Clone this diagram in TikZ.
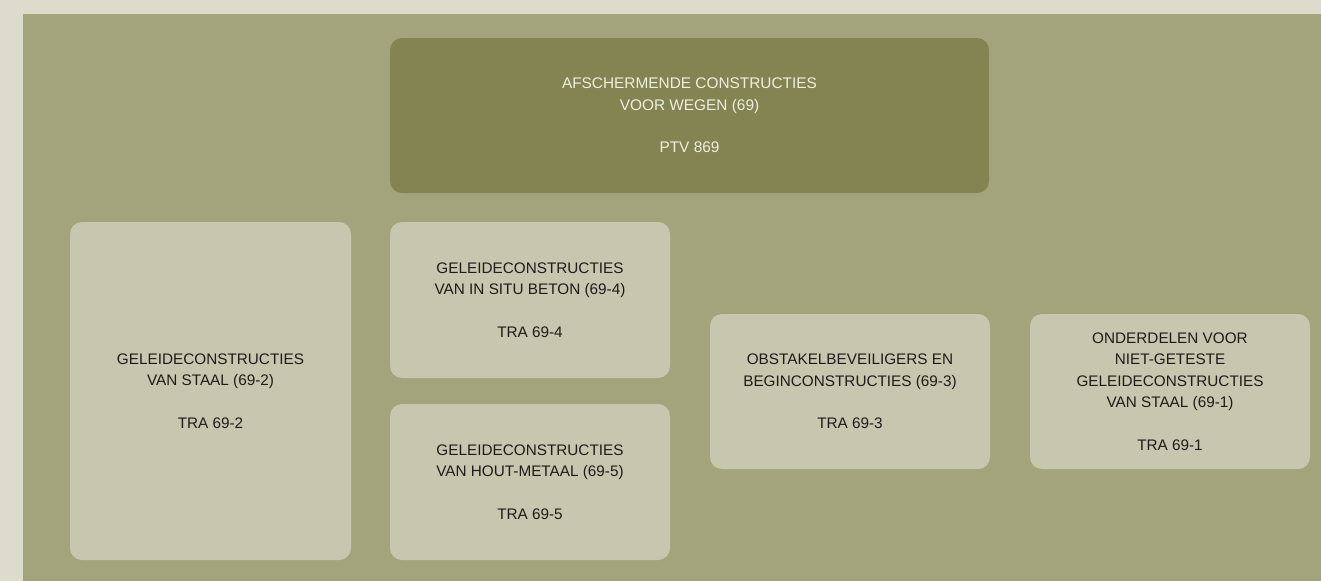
\documentclass[tikz,border=0pt]{standalone}
\usepackage{fontspec}
\setmainfont{Liberation Sans}

\definecolor{pagebg}{HTML}{DCDBCC}
\definecolor{panelbg}{HTML}{A4A47C}
\definecolor{headfill}{HTML}{838452}
\definecolor{itemfill}{HTML}{C7C7AF}
\definecolor{headtext}{HTML}{EEEEE2}
\definecolor{itemtext}{HTML}{1C1C1A}

\tikzset{
  headbox/.style={fill=headfill, text=headtext, rounded corners=12pt, inner sep=0pt,
    align=center, font=\fontsize{15.4}{21.5}\selectfont},
  itembox/.style={fill=itemfill, text=itemtext, rounded corners=12pt, inner sep=0pt,
    align=center, font=\fontsize{15.3}{21.5}\selectfont}
}

\begin{document}
\begin{tikzpicture}[x=1pt, y=-1pt]
% Background and panel
\fill[pagebg] (0,0) rectangle (1321,581);
\fill[panelbg] (23,14) rectangle (1321,581);
\useasboundingbox (0,0) rectangle (1321,581);

% Main standard
\node[headbox, minimum width=599pt, minimum height=155pt] (ptv) at (689.5,115.5)
  {AFSCHERMENDE CONSTRUCTIES\\VOOR WEGEN (69)\\[21pt]PTV 869};

% Sub standards
\node[itembox, minimum width=281pt, minimum height=338pt] (tra2) at (210.5,391)
  {GELEIDECONSTRUCTIES\\VAN STAAL (69-2)\\[21pt]TRA 69-2};
\node[itembox, minimum width=280pt, minimum height=156pt] (tra4) at (530,300)
  {GELEIDECONSTRUCTIES\\VAN IN SITU BETON (69-4)\\[21pt]TRA 69-4};
\node[itembox, minimum width=280pt, minimum height=156pt] (tra5) at (530,482)
  {GELEIDECONSTRUCTIES\\VAN HOUT-METAAL (69-5)\\[21pt]TRA 69-5};
\node[itembox, minimum width=280pt, minimum height=155pt] (tra3) at (850,391.5)
  {OBSTAKELBEVEILIGERS EN\\BEGINCONSTRUCTIES (69-3)\\[21pt]TRA 69-3};
\node[itembox, minimum width=280pt, minimum height=155pt] (tra1) at (1170,391.5)
  {ONDERDELEN VOOR\\NIET-GETESTE\\GELEIDECONSTRUCTIES\\VAN STAAL (69-1)\\[21pt]TRA 69-1};
\end{tikzpicture}
\end{document}
